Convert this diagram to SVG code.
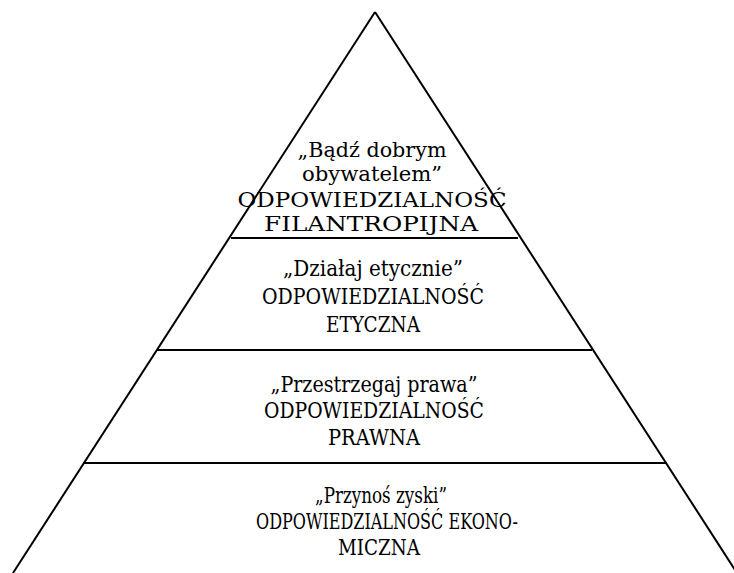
<svg xmlns="http://www.w3.org/2000/svg" width="734" height="573" viewBox="0 0 734 573">
<style>
.ln{stroke:#000;stroke-width:2;fill:none}
.t{font-family:'DejaVu Serif','Liberation Serif',serif;font-size:22px;fill:#000;text-anchor:middle}
.t1{font-size:21px}
</style>
<rect width="734" height="573" fill="#fff"/>
<g id="connectors">
<line class="ln" x1="375" y1="12" x2="13" y2="573"/>
<line class="ln" x1="375" y1="12" x2="737" y2="573"/>
<line class="ln" x1="231" y1="238" x2="518" y2="238"/>
<line class="ln" x1="157" y1="350" x2="592" y2="350"/>
<line class="ln" x1="83" y1="463" x2="667" y2="463"/>
</g>
<g id="filantropijna" class="t t1">
<text x="372" y="157" textLength="149" lengthAdjust="spacingAndGlyphs">„Bądź dobrym</text>
<text x="372" y="181" textLength="140" lengthAdjust="spacingAndGlyphs">obywatelem”</text>
<text x="372" y="207" textLength="269" lengthAdjust="spacingAndGlyphs">ODPOWIEDZIALNOŚĆ</text>
<text x="371" y="231" textLength="214" lengthAdjust="spacingAndGlyphs">FILANTROPIJNA</text>
</g>
<g id="etyczna" class="t">
<text x="373" y="276" textLength="180" lengthAdjust="spacingAndGlyphs">„Działaj etycznie”</text>
<text x="373" y="304" textLength="222" lengthAdjust="spacingAndGlyphs">ODPOWIEDZIALNOŚĆ</text>
<text x="373" y="332" textLength="94" lengthAdjust="spacingAndGlyphs">ETYCZNA</text>
</g>
<g id="prawna" class="t">
<text x="374" y="392" textLength="207" lengthAdjust="spacingAndGlyphs">„Przestrzegaj prawa”</text>
<text x="374" y="418" textLength="220" lengthAdjust="spacingAndGlyphs">ODPOWIEDZIALNOŚĆ</text>
<text x="374" y="445" textLength="92" lengthAdjust="spacingAndGlyphs">PRAWNA</text>
</g>
<g id="ekonomiczna" class="t">
<text x="381" y="503" textLength="132" lengthAdjust="spacingAndGlyphs">„Przynoś zyski”</text>
<text x="387" y="529" textLength="262" lengthAdjust="spacingAndGlyphs">ODPOWIEDZIALNOŚĆ EKONO-</text>
<text x="379" y="555" textLength="82" lengthAdjust="spacingAndGlyphs">MICZNA</text>
</g>
</svg>
